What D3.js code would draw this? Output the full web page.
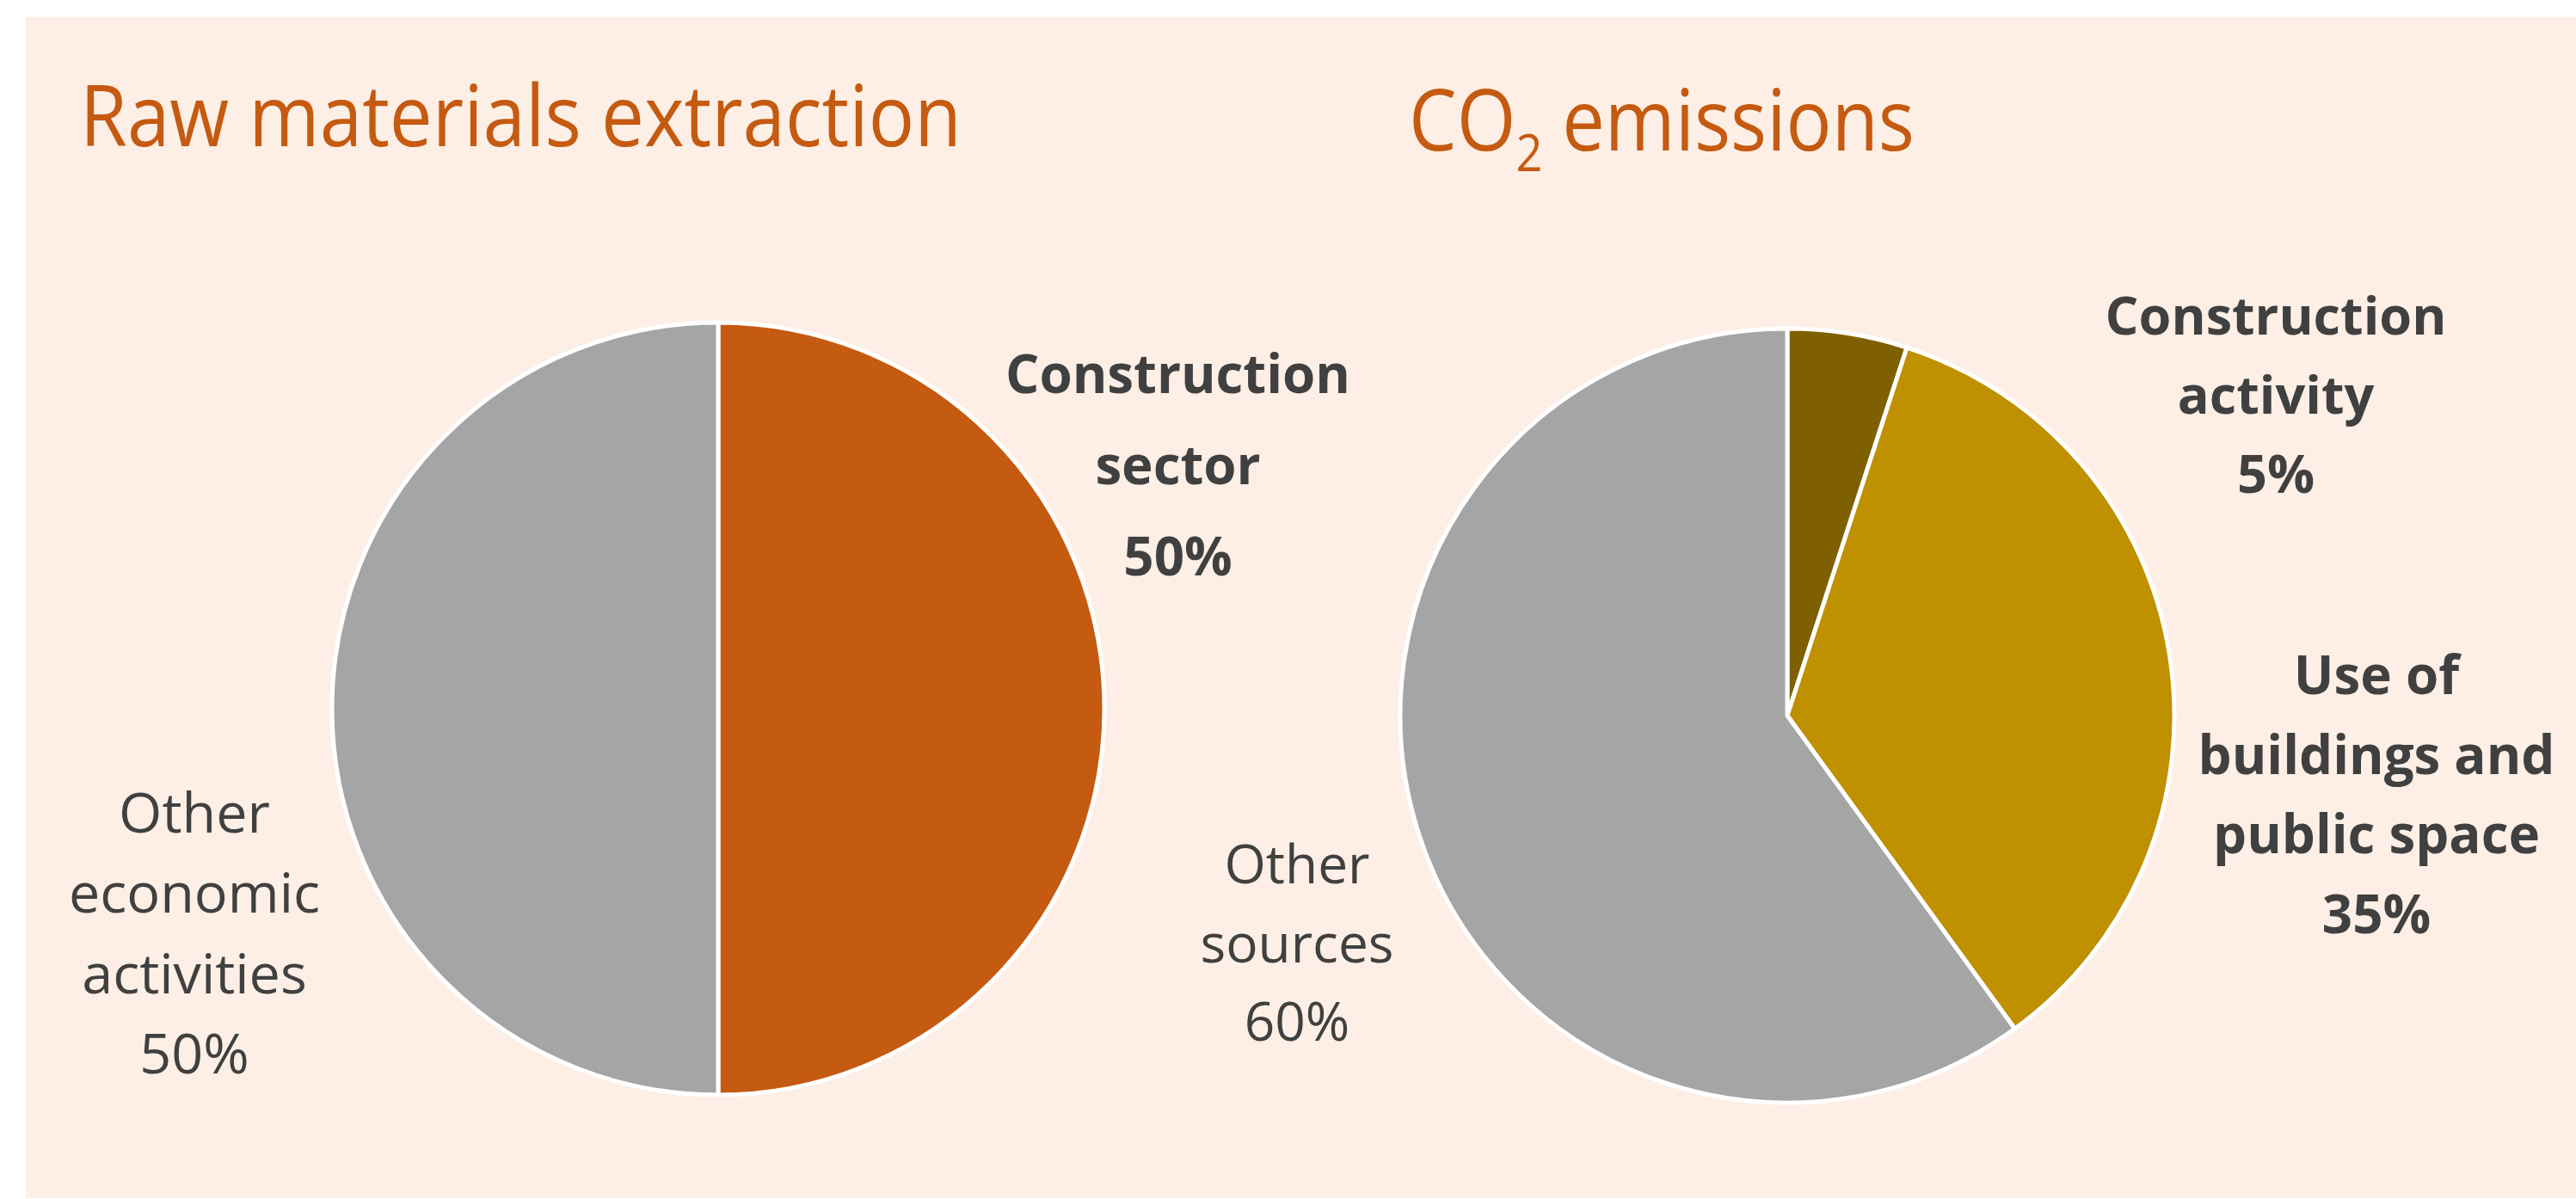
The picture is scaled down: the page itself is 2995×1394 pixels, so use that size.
<!DOCTYPE html>
<html>
<head>
<meta charset="utf-8">
<script src="https://cdn.jsdelivr.net/npm/d3@7"></script>
<style>
  html, body { margin: 0; padding: 0; background: #ffffff; }
  svg { display: block; }
</style>
</head>
<body>
<svg id="chart" width="2995" height="1394"></svg>
<script>
// ---------------- data ----------------
const rawCategories = ["Construction sector", "Other economic activities"];
const rawValues = [50, 50];
const rawLabelLines = [["Construction", "sector", "50%"], ["Other", "economic", "activities", "50%"]];

const co2Categories = ["Construction activity", "Use of buildings and public space", "Other sources"];
const co2Values = [5, 35, 60];
const co2LabelLines = [["Construction", "activity", "5%"], ["Use of", "buildings and", "public space", "35%"], ["Other", "sources", "60%"]];

const titleRaw = "Raw materials extraction";
const titleCo2 = ["CO", "2", " emissions"];

// ---------------- styles ----------------
const rawColors = ["#C55A11", "#A5A5A5"];
const co2Colors = ["#7F6000", "#BF9000", "#A5A5A5"];
const titleColor = "#C55A11";
const textColor = "#404040";
const bgColor = "#FDEFE5";
const labelFont = "'Open Sans', 'Noto Sans', 'DejaVu Sans', sans-serif";
const titleFont = "'Open Sans', 'Noto Sans', sans-serif";

const svg = d3.select("#chart");

// background panel
svg.append("rect").attr("x", 30).attr("y", 20).attr("width", 2965).attr("height", 1373).attr("fill", bgColor);

// ---------------- titles ----------------
// a title is drawn at natural size, then squeezed horizontally to the reference width
function drawTitle(x, y, targetWidth, build) {
  const g = svg.append("g");
  const t = g.append("text")
    .attr("font-family", titleFont).attr("font-size", 98).attr("font-weight", 500)
    .attr("fill", titleColor);
  build(t);
  const w = t.node().getComputedTextLength();
  const sx = w > 0 ? targetWidth / w : 1;
  g.attr("transform", `translate(${x},${y}) scale(${sx},1)`);
}

drawTitle(93, 170, 1025, t => t.text(titleRaw));
drawTitle(1638, 175, 588, t => {
  t.append("tspan").text(titleCo2[0]);
  t.append("tspan").attr("font-size", 60).attr("dy", 24).text(titleCo2[1]);
  t.append("tspan").attr("dy", -24).text(titleCo2[2]);
});

// ---------------- pies ----------------
function drawPie(cx, cy, r, values, colors) {
  const pie = d3.pie().sort(null).value(d => d);
  const arc = d3.arc().innerRadius(0).outerRadius(r);
  const g = svg.append("g").attr("transform", `translate(${cx},${cy})`);
  g.selectAll("path").data(pie(values)).join("path")
    .attr("d", arc)
    .attr("fill", (d, i) => colors[i])
    .attr("stroke", "#ffffff")
    .attr("stroke-width", 5)
    .attr("stroke-linejoin", "round");
  return g;
}

const pie1 = { cx: 835, cy: 824, r: 449 };
const pie2 = { cx: 2078, cy: 832, r: 450 };
drawPie(pie1.cx, pie1.cy, pie1.r, rawValues, rawColors);
drawPie(pie2.cx, pie2.cy, pie2.r, co2Values, co2Colors);

// ---------------- labels ----------------
// block: lines, center x offset from pie center, first baseline offset, line step, weight, width of widest line
function drawLabel(pc, lines, dx, dy, step, weight, targetWidth) {
  const t = svg.append("text")
    .attr("font-family", labelFont)
    .attr("font-weight", weight)
    .attr("font-size", 70)
    .attr("fill", textColor)
    .attr("text-anchor", "middle");
  lines.forEach((ln, i) => {
    t.append("tspan").attr("x", pc.cx + dx).attr("y", pc.cy + dy + i * step).text(ln);
  });
  let maxW = 0;
  t.selectAll("tspan").each(function () { maxW = Math.max(maxW, this.getComputedTextLength()); });
  if (maxW > 0) t.attr("font-size", 70 * targetWidth / maxW);
}

drawLabel(pie1, rawLabelLines[0], 1369.5 - pie1.cx, 457 - pie1.cy, 106, 700, 401);
drawLabel(pie1, rawLabelLines[1], 226 - pie1.cx, 968 - pie1.cy, 93.3, 400, 292);

drawLabel(pie2, co2LabelLines[0], 2646 - pie2.cx, 389 - pie2.cy, 92, 700, 397);
drawLabel(pie2, co2LabelLines[1], 2763 - pie2.cx, 807 - pie2.cy, 92.5, 700, 415);
drawLabel(pie2, co2LabelLines[2], 1508 - pie2.cx, 1027 - pie2.cy, 91.5, 400, 225);
</script>
</body>
</html>
